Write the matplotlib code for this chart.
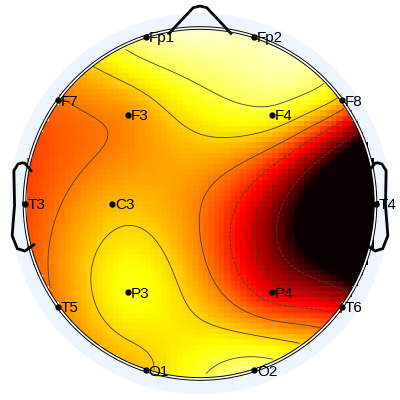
import numpy as np
import matplotlib
matplotlib.use("Agg")
import matplotlib.pyplot as plt

# canais 10-20 (theta em graus a partir do nariz, raio polar)
canais = ["Fp1", "Fp2", "F7", "F3", "F4", "F8", "T3", "C3",
          "T4", "T5", "P3", "P4", "T6", "O1", "O2"]
theta = [-18, 18, -54, -39, 39, 54, -90, -90,
         90, -126, -141, 141, 126, -162, 162]
raio = [0.511, 0.511, 0.511, 0.333, 0.333, 0.511, 0.511, 0.256,
        0.511, 0.511, 0.333, 0.333, 0.511, 0.511, 0.511]
valores = [6.5, 6.9, 0.6, 1.3, 4.4, 2.2, -0.6, 2.2,
           -20.0, 0.9, 4.3, -2.6, -2.8, 2.6, 6.2]
limites = (-8, 8)

rmax = 0.5
plotrad = 0.511
squeeze = rmax / plotrad
fundo = (0.93, 0.96, 1.0)

th = np.deg2rad(np.array(theta))
r = np.array(raio) * squeeze
ex = r * np.sin(th)
ey = r * np.cos(th)
z = np.array(valores)

# interpolacao biharmonica (griddata v4)
def green(d):
    g = np.zeros_like(d)
    m = d > 0
    g[m] = d[m] ** 2 * (np.log(d[m]) - 1)
    return g

dd = np.hypot(ex[:, None] - ex[None, :], ey[:, None] - ey[None, :])
w = np.linalg.solve(green(dd), z)

n = 67
xi = np.linspace(-rmax, rmax, n)
Xi, Yi = np.meshgrid(xi, xi)
dg = np.hypot(Xi[..., None] - ex, Yi[..., None] - ey)
Zi = green(dg) @ w
Zi = np.ma.masked_where(np.hypot(Xi, Yi) > rmax, Zi)

fig = plt.figure(figsize=(4, 4), dpi=100)
ax = fig.add_axes([0, 0, 1, 1])
u = 351.0
ax.set_xlim(-200 / u, 200 / u)
ax.set_ylim(-196.5 / u, 203.5 / u)
ax.set_aspect("equal")
ax.axis("off")

ax.add_patch(plt.Circle((0, 0), 0.541, color=fundo, zorder=0))

h = xi[1] - xi[0]
ax.imshow(Zi, cmap="hot", vmin=limites[0], vmax=limites[1], origin="lower",
          extent=[-rmax - h / 2, rmax + h / 2, -rmax - h / 2, rmax + h / 2],
          interpolation="nearest", zorder=1)
niveis = np.linspace(limites[0], Zi.max(), 8)[1:-1]
ax.contour(Xi, Yi, Zi, levels=niveis, colors="0.25", linewidths=0.6, zorder=2)

# anel da cabeca
circ = np.linspace(0, 2 * np.pi, 400)
ax.plot(rmax * np.cos(circ), rmax * np.sin(circ), color="black", lw=2.6, zorder=3)
ax.plot(rmax * np.cos(circ), rmax * np.sin(circ), color="white", lw=1.2, zorder=4)

# nariz e orelhas
sf = squeeze
base = rmax - 0.0046
basex = 0.18 * rmax
tip = 1.15 * rmax
tiphw = 0.04 * rmax
tipr = 0.01 * rmax
ax.plot(np.array([basex, tiphw, 0, -tiphw, -basex]) * sf,
        np.array([base, tip - tipr, tip, tip - tipr, base]) * sf,
        color="black", lw=2, solid_joinstyle="round", zorder=5)
q = 0.04
EarX = np.array([.497 - .005, .510, .518, .5299, .5419, .54, .547, .532, .510, .489 - .005])
EarY = np.array([q + .0555, q + .0775, q + .0783, q + .0746, q + .0555,
                 -.0055, -.0932, -.1313, -.1384, -.1199])
ax.plot(EarX * sf, EarY * sf, color="black", lw=2, zorder=5)
ax.plot(-EarX * sf, EarY * sf, color="black", lw=2, zorder=5)

# eletrodos
ax.plot(ex, ey, ".", color="black", ms=7, zorder=6)
for nome, x, y in zip(canais, ex, ey):
    ax.text(x + 0.008, y - 0.004, nome, fontsize=11, family="Liberation Sans",
            va="center", ha="left", zorder=7)

plt.savefig("out.png", dpi=100)
